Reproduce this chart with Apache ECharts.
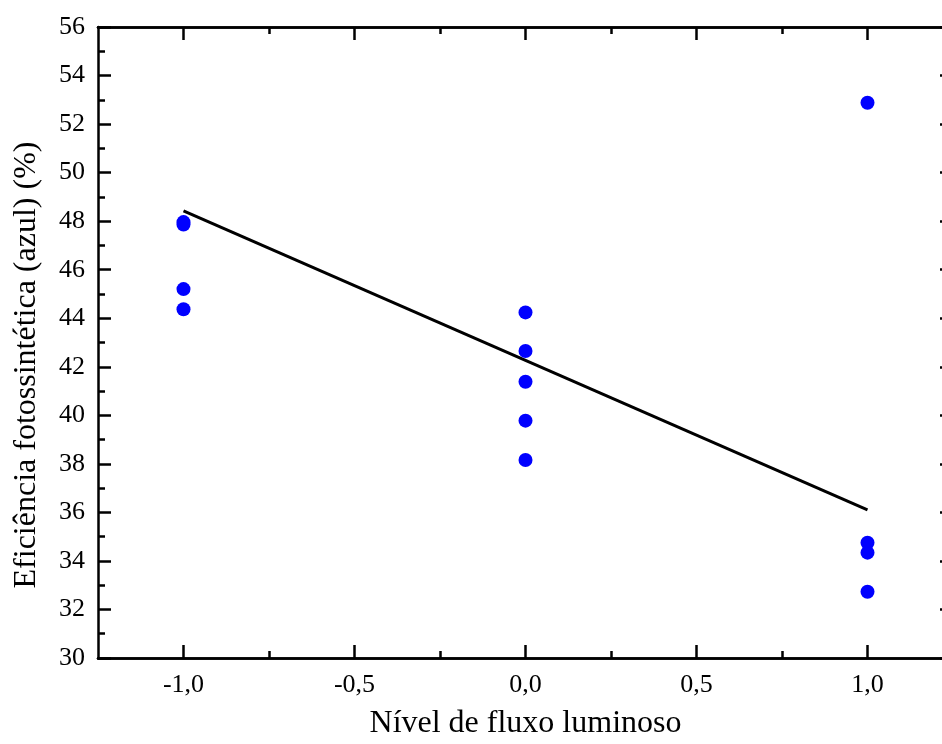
<!DOCTYPE html>
<html>
<head>
<meta charset="utf-8">
<script src="https://cdn.jsdelivr.net/npm/echarts@6/dist/echarts.min.js"></script>
<style>
html,body{margin:0;padding:0;background:#fff;}
#chart{width:942px;height:744px;}
</style>
</head>
<body>
<div id="chart"></div>
<script>
// Data
var xLevels = [-1, -1, -1, -1, 0, 0, 0, 0, 0, 1, 1, 1, 1];
var efficiency = [47.96, 47.86, 45.20, 44.37, 44.24, 42.65, 41.38, 39.78, 38.16, 52.88, 34.75, 34.34, 32.73];
var fitX = [-1, 1];
var fitY = [48.42, 36.1];
var xMajorTicks = [-1, -0.5, 0, 0.5, 1];
var xMinorTicks = [-0.75, -0.25, 0.25, 0.75];
var xTitle = 'Nível de fluxo luminoso';
var yTitle = 'Eficiência fotossintética (azul) (%)';

var FONT = 'Liberation Serif';
var points = xLevels.map(function (x, i) { return [x, efficiency[i]]; });
var fitLine = fitX.map(function (x, i) { return [x, fitY[i]]; });
function fmtX(v) { return v.toFixed(1).replace('.', ','); }

var lineStyle = { color: '#000', width: 2.5 };
function xAxisDef(pos, ticks, len, withLabels, name) {
  return {
    type: 'value', position: pos, min: -1.25, max: 1.25, gridIndex: 0,
    axisLine: { show: true, onZero: false, lineStyle: lineStyle },
    axisTick: { show: true, inside: true, length: len, customValues: ticks, lineStyle: lineStyle },
    axisLabel: withLabels ? {
      show: true, customValues: ticks, margin: 14, formatter: fmtX,
      fontFamily: FONT, fontSize: 26, color: '#000'
    } : { show: false },
    splitLine: { show: false },
    name: name || '', nameLocation: 'middle', nameGap: 50,
    nameTextStyle: { fontFamily: FONT, fontSize: 32, color: '#000' }
  };
}

var chart = echarts.init(document.getElementById('chart'));
chart.setOption({
  backgroundColor: '#fff',
  animation: false,
  grid: { left: 98, top: 27, width: 855, height: 631, containLabel: false, outerBoundsMode: 'none' },
  xAxis: [
    xAxisDef('bottom', xMajorTicks, 13, true, xTitle),
    xAxisDef('bottom', xMinorTicks, 7, false),
    xAxisDef('top', xMajorTicks, 13, false),
    xAxisDef('top', xMinorTicks, 7, false)
  ],
  yAxis: [
    {
      type: 'value', position: 'left', min: 30, max: 56, interval: 2,
      axisLine: { show: true, onZero: false, lineStyle: lineStyle },
      axisTick: { show: true, inside: true, length: 13, lineStyle: lineStyle },
      minorTick: { show: true, splitNumber: 2, length: 7, lineStyle: lineStyle },
      axisLabel: { margin: 13, fontFamily: FONT, fontSize: 26, color: '#000' },
      splitLine: { show: false }
    },
    {
      type: 'value', position: 'right', min: 30, max: 56, interval: 2,
      axisLine: { show: true, onZero: false, lineStyle: lineStyle },
      axisTick: { show: true, inside: true, length: 13, lineStyle: lineStyle },
      minorTick: { show: true, splitNumber: 2, length: 7, lineStyle: lineStyle },
      axisLabel: { show: false },
      splitLine: { show: false }
    }
  ],
  graphic: [{
    type: 'text', x: 27, y: 365, rotation: Math.PI / 2,
    style: {
      text: yTitle, fontFamily: FONT, fontSize: 32, fill: '#000',
      align: 'center', verticalAlign: 'middle'
    }
  }],
  series: [
    {
      type: 'line', xAxisIndex: 0, yAxisIndex: 0, data: fitLine,
      symbol: 'none', lineStyle: { color: '#000', width: 3 }, z: 2
    },
    {
      type: 'scatter', xAxisIndex: 0, yAxisIndex: 0, data: points,
      symbol: 'circle', symbolSize: 14, itemStyle: { color: '#0000ff', opacity: 1 }, z: 3
    }
  ]
});
</script>
</body>
</html>
